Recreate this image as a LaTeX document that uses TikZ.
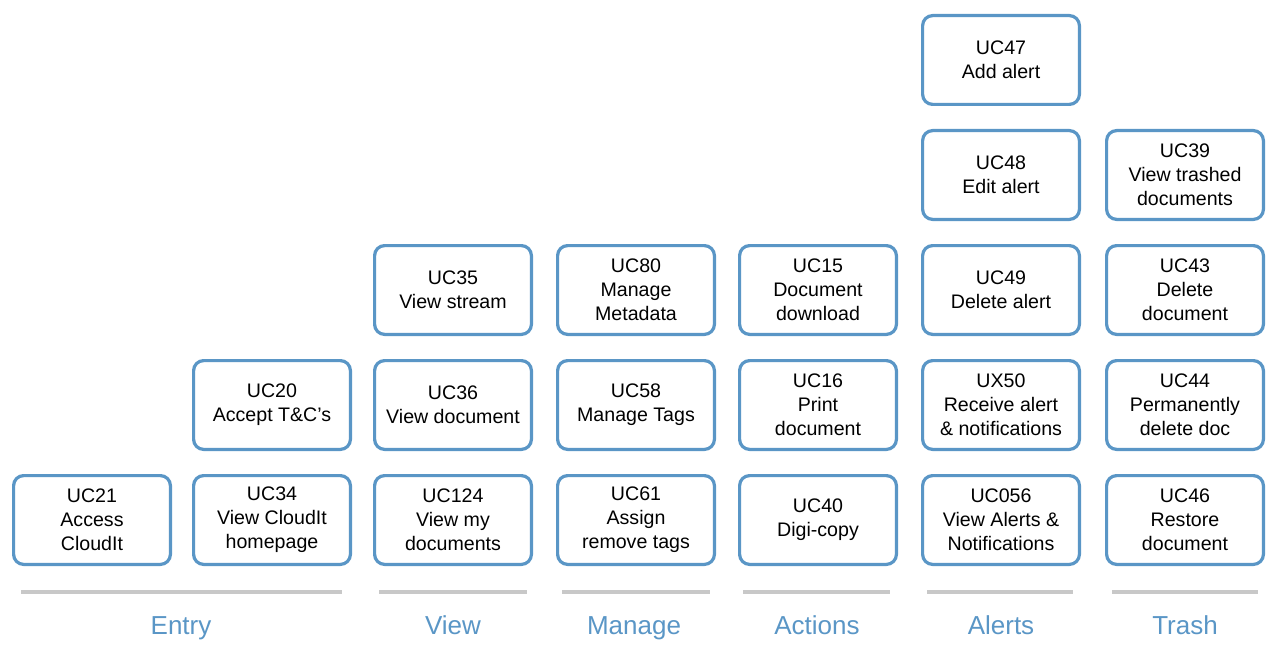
\documentclass[tikz,border=0pt]{standalone}
\usepackage{fontspec}
\setmainfont{Liberation Sans}
\usetikzlibrary{positioning}
\definecolor{ucblue}{HTML}{5A96C6}
\definecolor{rulegray}{HTML}{C8C8C8}

\begin{document}
\begin{tikzpicture}[x=1pt, y=-1pt,
  usecase/.style={rectangle, rounded corners=10pt, draw=ucblue, line width=3.2pt, fill=white,
    minimum width=156.8pt, minimum height=88.8pt, inner sep=2pt, align=center,
    font=\fontsize{19.6}{24}\selectfont},
  group/.style={text=ucblue, anchor=base, font=\fontsize{26}{30}\selectfont},
  divider/.style={draw=rulegray, line width=4pt}
]
  \useasboundingbox (0,0) rectangle (1277,650);

  % Entry
  \node[usecase] (uc21) at (92,520) {UC21\\Access\\CloudIt};
  \node[usecase] (uc34) at (272,520) {UC34\\View CloudIt\\homepage};
  \node[usecase] (uc20) at (272,405) {UC20\\Accept T\&C’s};

  % View
  \node[usecase] (uc124) at (453,520) {UC124\\View my\\documents};
  \node[usecase] (uc36) at (453,405) {UC36\\View document};
  \node[usecase] (uc35) at (453,290) {UC35\\View stream};

  % Manage
  \node[usecase] (uc61) at (636,520) {UC61\\Assign\\remove tags};
  \node[usecase] (uc58) at (636,405) {UC58\\Manage Tags};
  \node[usecase] (uc80) at (636,290) {UC80\\Manage\\Metadata};

  % Actions
  \node[usecase] (uc40) at (818,520) {UC40\\Digi-copy};
  \node[usecase] (uc16) at (818,405) {UC16\\Print\\document};
  \node[usecase] (uc15) at (818,290) {UC15\\Document\\download};

  % Alerts
  \node[usecase] (uc056) at (1001,520) {UC056\\View Alerts \&\\Notifications};
  \node[usecase] (ux50) at (1001,405) {UX50\\Receive alert\\\& notifications};
  \node[usecase] (uc49) at (1001,290) {UC49\\Delete alert};
  \node[usecase] (uc48) at (1001,175) {UC48\\Edit alert};
  \node[usecase] (uc47) at (1001,60) {UC47\\Add alert};

  % Trash
  \node[usecase] (uc46) at (1185,520) {UC46\\Restore\\document};
  \node[usecase] (uc44) at (1185,405) {UC44\\Permanently\\delete doc};
  \node[usecase] (uc43) at (1185,290) {UC43\\Delete\\document};
  \node[usecase] (uc39) at (1185,175) {UC39\\View trashed\\documents};

  % group rules and titles
  \draw[divider] (21,592) -- (342,592);
  \draw[divider] (379,592) -- (527,592);
  \draw[divider] (562,592) -- (710,592);
  \draw[divider] (743,592) -- (890,592);
  \draw[divider] (927,592) -- (1073,592);
  \draw[divider] (1112,592) -- (1258,592);

  \node[group] (entry) at (181,634) {Entry};
  \node[group] (view) at (453,634) {View};
  \node[group] (manage) at (634,634) {Manage};
  \node[group] (actions) at (817,634) {Actions};
  \node[group] (alerts) at (1001,634) {Alerts};
  \node[group] (trash) at (1185,634) {Trash};
\end{tikzpicture}
\end{document}
